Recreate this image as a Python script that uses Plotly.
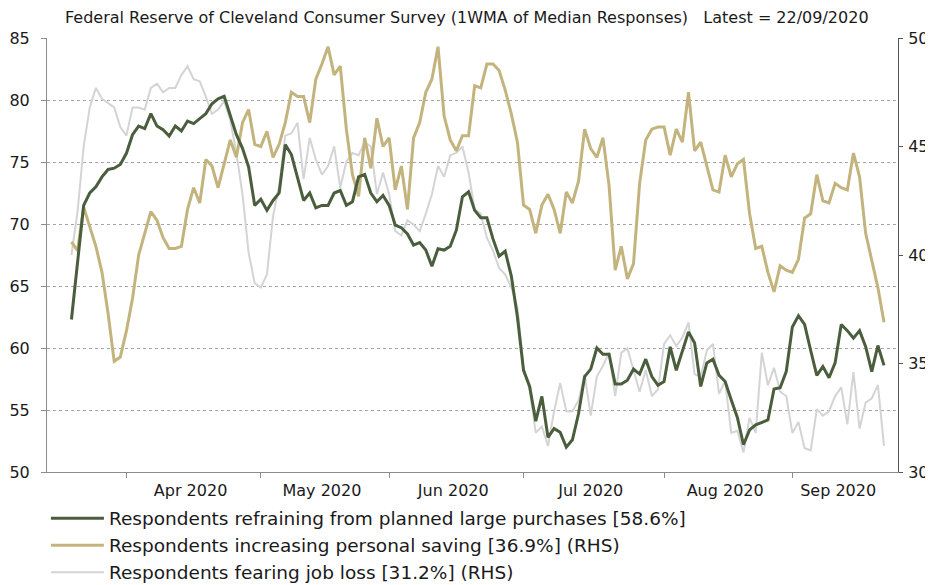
import pandas as pd
import plotly.graph_objects as go

# ---- data (business days, 1WMA of median responses) ----
start_date = "2020-03-19"
end_date = "2020-09-22"
dates = pd.bdate_range(start_date, end_date)

refraining = [
    62.3, 67.0, 71.5, 72.5, 73.0, 73.8, 74.4, 74.5, 74.8, 75.7,
    77.2, 77.9, 77.7, 78.9, 77.9, 77.6, 77.1, 77.9, 77.5, 78.3,
    78.1, 78.5, 78.9, 79.7, 80.1, 80.3, 78.7, 77.2, 76.1, 74.6,
    71.5, 72.0, 71.1, 71.9, 72.5, 76.4, 75.6, 73.8, 71.9, 72.5,
    71.3, 71.5, 71.5, 72.5, 72.7, 71.5, 71.8, 73.8, 74.0, 72.5,
    71.8, 72.3, 71.5, 69.9, 69.7, 69.2, 68.3, 68.5, 67.9, 66.6,
    68.0, 67.9, 68.2, 69.5, 72.2, 72.6, 71.1, 70.5, 70.5, 68.8,
    67.4, 67.8, 65.8, 62.5, 58.2, 56.9, 54.1, 56.1, 52.8, 53.5,
    53.2, 52.0, 52.6, 54.7, 57.7, 58.3, 60.0, 59.5, 59.5, 57.1,
    57.1, 57.4, 58.3, 57.9, 59.1, 57.7, 57.0, 57.3, 60.1, 58.2,
    59.7, 61.3, 60.4, 56.9, 58.8, 59.1, 57.8, 57.3, 55.8, 54.4,
    52.2, 53.4, 53.8, 54.0, 54.2, 56.7, 56.8, 58.1, 61.7, 62.6,
    61.9, 59.8, 57.8, 58.5, 57.6, 58.8, 61.9, 61.4, 60.8, 61.4,
    60.1, 58.1, 60.2, 58.6,
]

saving = [
    40.6, 40.2, 42.2, 41.3, 40.4, 39.2, 37.3, 35.1, 35.3, 36.5,
    38.0, 40.0, 41.0, 42.0, 41.6, 40.8, 40.3, 40.3, 40.4, 42.1,
    43.1, 42.4, 44.4, 44.1, 43.1, 44.2, 45.3, 44.5, 46.1, 46.7,
    45.1, 45.0, 45.7, 44.5, 45.1, 46.1, 47.5, 47.3, 47.3, 46.1,
    48.1, 48.8, 49.6, 48.3, 48.7, 45.8, 43.7, 42.7, 45.4, 44.0,
    46.3, 45.0, 45.4, 43.0, 44.1, 42.1, 45.4, 46.1, 47.5, 48.1,
    49.6, 46.4, 45.3, 44.8, 45.5, 45.5, 47.8, 47.7, 48.8, 48.8,
    48.5, 47.6, 46.5, 45.2, 42.3, 42.1, 41.0, 42.3, 42.8, 42.1,
    41.0, 42.9, 42.4, 43.4, 45.8, 44.9, 44.5, 45.4, 43.2, 39.3,
    40.4, 38.9, 39.6, 43.3, 45.3, 45.8, 45.9, 45.9, 44.6, 45.8,
    45.2, 47.5, 44.8, 45.2, 44.1, 43.0, 42.9, 44.6, 43.6, 44.2,
    44.4, 41.9, 40.3, 40.4, 39.2, 38.3, 39.5, 39.3, 39.2, 39.8,
    41.7, 41.9, 43.7, 42.5, 42.4, 43.3, 43.1, 43.0, 44.7, 43.6,
    41.0, 39.8, 38.5, 36.9,
]

job_loss = [
    40.0, 42.0, 45.0, 46.8, 47.7, 47.2, 47.0, 46.8, 45.9, 45.5,
    46.8, 46.8, 46.7, 47.7, 47.9, 47.5, 47.7, 47.7, 48.3, 48.7,
    48.1, 48.0, 47.3, 46.5, 46.7, 47.1, 46.2, 44.7, 42.8, 40.1,
    38.7, 38.5, 39.1, 41.8, 43.2, 45.5, 45.6, 46.1, 43.5, 45.4,
    44.4, 43.7, 44.1, 45.0, 43.1, 44.3, 44.7, 44.6, 45.2, 45.0,
    42.8, 43.8, 42.8, 41.1, 40.9, 41.6, 41.4, 41.1, 41.9, 42.8,
    44.1, 43.6, 44.6, 44.7, 45.0, 43.8, 42.1, 41.9, 40.8, 40.2,
    39.4, 39.1, 38.5, 37.6, 34.8, 33.8, 31.8, 32.1, 31.2, 32.8,
    34.1, 32.8, 32.8, 33.3, 34.5, 32.6, 34.4, 34.9, 35.5, 33.5,
    35.5, 35.7, 34.7, 33.7, 34.7, 33.5, 33.8, 35.9, 36.3, 35.8,
    36.2, 36.9, 34.5, 34.4, 35.6, 35.9, 33.6, 34.2, 31.8, 31.9,
    30.9, 32.5, 31.8, 35.5, 34.0, 34.8, 33.7, 33.5, 31.8, 32.3,
    31.1, 31.0, 32.9, 32.6, 32.8, 33.5, 33.9, 32.2, 34.6, 32.0,
    33.2, 33.4, 34.0, 31.2,
]

names = [
    "Respondents refraining from planned large purchases [58.6%]",
    "Respondents increasing personal saving [36.9%] (RHS)",
    "Respondents fearing job loss [31.2%] (RHS)",
]
title_text = ("Federal Reserve of Cleveland Consumer Survey (1WMA of Median Responses)"
              "&nbsp;&nbsp;&nbsp;Latest = 22/09/2020")

# ---- month ticks: boundaries at first business day, labels centred ----
s = pd.Series(dates, index=dates)
groups = s.groupby([dates.year, dates.month])
bounds, mids, labels = [], [], []
for (yy, mm), g in groups:
    d = list(g)
    if mm == 3:
        continue
    bounds.append(d[0])
    pos = (len(d) - 1) / 2
    k = int(pos)
    mid = d[k] + (pd.Timedelta(hours=12) if pos != k else pd.Timedelta(0))
    mids.append(mid)
    labels.append(d[0].strftime("%b %Y"))

FONT = "DejaVu Sans"
TXT = "#1a1a1a"

fig = go.Figure()
fig.add_trace(go.Scatter(x=dates, y=job_loss, name=names[2], yaxis="y",
                         mode="lines", line=dict(color="#d4d4d4", width=2)))
fig.add_trace(go.Scatter(x=dates, y=saving, name=names[1], yaxis="y",
                         mode="lines", line=dict(color="#c3b47e", width=3)))
fig.add_trace(go.Scatter(x=dates, y=refraining, name=names[0], yaxis="y2",
                         mode="lines", line=dict(color="#4a5e3d", width=3)))

fig.update_layout(
    width=925, height=577,
    paper_bgcolor="white", plot_bgcolor="white",
    margin=dict(l=39, r=35, t=30, b=113, autoexpand=False),
    font=dict(family=FONT, size=16, color=TXT),
    title=dict(text=title_text, x=0.496, xanchor="center", y=0.984, yanchor="middle",
               xref="container", yref="container",
               font=dict(family=FONT, size=16, color=TXT)),
    showlegend=True,
    legend=dict(xref="container", yref="container", x=0.041, xanchor="left",
                y=0.148, yanchor="top",
                traceorder="reversed", font=dict(family=FONT, size=18.5, color=TXT),
                itemwidth=53, bgcolor="rgba(0,0,0,0)", tracegroupgap=0),
    xaxis=dict(
        type="date", automargin=False,
        rangebreaks=[dict(bounds=["sat", "mon"])],
        range=["2020-03-13", "2020-09-24 07:00"],
        tickmode="array", tickvals=mids, ticktext=labels, ticks="",
        ticklabelstandoff=4,
        showgrid=False, showline=True, linecolor="#8c8c8c", linewidth=1,
        minor=dict(tickmode="array", tickvals=bounds, ticks="outside",
                   ticklen=5, tickcolor="#8c8c8c", showgrid=False),
        tickfont=dict(family=FONT, size=16, color=TXT),
    ),
    yaxis=dict(
        side="right", range=[30, 50], dtick=5, tick0=30, automargin=False,
        showgrid=False, zeroline=False,
        showline=True, linecolor="#555555", linewidth=1,
        ticks="outside", ticklen=4, tickcolor="#555555",
        ticklabelstandoff=2,
        tickfont=dict(family=FONT, size=16, color=TXT),
    ),
    yaxis2=dict(
        overlaying="y", side="left", range=[50, 85], dtick=5, tick0=50,
        automargin=False,
        showgrid=True, griddash="dot", gridcolor="#a6a6a6", gridwidth=1,
        zeroline=False,
        showline=True, linecolor="#8c8c8c", linewidth=1,
        ticks="outside", ticklen=5, tickcolor="#8c8c8c",
        ticklabelstandoff=8,
        tickfont=dict(family=FONT, size=16, color=TXT),
    ),
)

fig.write_html("out.html")
